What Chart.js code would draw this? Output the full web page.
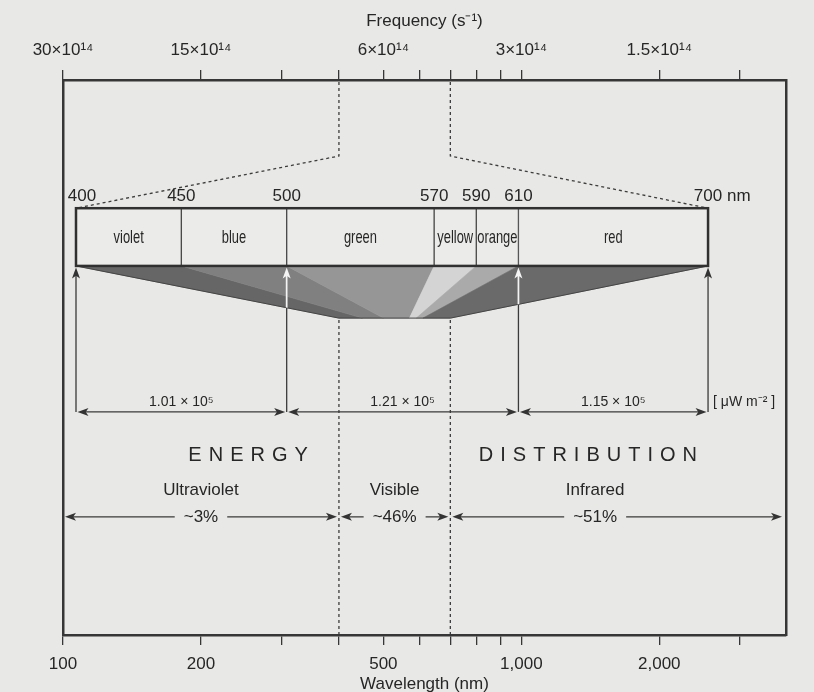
<!DOCTYPE html>
<html>
<head>
<meta charset="utf-8">
<script src="https://cdn.jsdelivr.net/npm/chart.js@4.4.1/dist/chart.umd.min.js"></script>
<style>
  html, body { margin: 0; padding: 0; background: #e8e8e6; }
  #wrap { width: 814px; height: 692px; }
</style>
</head>
<body>
<div id="wrap"><canvas id="c" width="814" height="692"></canvas></div>
<script>
// ---------------- data ----------------
const wavelengthMin = 100;
const wavelengthMax = 3780;
const wavelengthTicks = [100, 200, 300, 400, 500, 600, 700, 800, 900, 1000, 2000, 3000];
const labelledWavelengths = [100, 200, 500, 1000, 2000];
const wavelengthTickLabels = ['100', '200', '500', '1,000', '2,000'];
const frequencyTickLabels = ['30×10¹⁴', '15×10¹⁴', '6×10¹⁴', '3×10¹⁴', '1.5×10¹⁴'];

const bandNames = ['violet', 'blue', 'green', 'yellow', 'orange', 'red'];
const bandEdgesNm = [400, 450, 500, 570, 590, 610, 700];

const energyEdgesNm = [400, 500, 610, 700];
const energyValues = [1.01e5, 1.21e5, 1.15e5];   // µW m-2
const energyUnit = '[ μW m⁻² ]';

const regionNames = ['Ultraviolet', 'Visible', 'Infrared'];
const regionEdgesNm = [100, 400, 700, 3000];
const regionPercents = [3, 46, 51];

// ---------------- style / layout ----------------
const SANS = '"Liberation Sans", Arial, Helvetica, sans-serif';
const TXT = '#262626', LINE = '#363636', BG = '#e8e8e6', BAR_FILL = '#ebebe9';
const bandShades = ['#666666', '#808080', '#969696', '#d4d4d4', '#aaaaaa', '#6a6a6a'];
const CANVAS_H = 692, TOP_AXIS_H = 80, BOTTOM_AXIS_H = 57, LEFT_W = 63, RIGHT_W = 28;
const FRAME_H = CANVAS_H - TOP_AXIS_H - BOTTOM_AXIS_H;
// vertical layout in frame units (0 = top edge of frame, 100 = bottom edge)
const L = { kink: 13.7, specLabel: 21.0, barTop: 23.1, barBot: 33.5, fanBot: 42.9,
            dimLabel: 58.0, dimLine: 59.8, title: 67.6, region: 73.9, pct: 78.7,
            titleFracA: 0.256, titleFracB: 0.726 };
const spectrumScaleMin = 393.83, spectrumScaleMax = 737.0;

function arrowHead(ctx, tx, ty, dx, dy, color, len = 10, half = 4) {
  const bx = tx - dx * len, by = ty - dy * len;
  const px = -dy, py = dx;
  ctx.beginPath();
  ctx.moveTo(tx, ty);
  ctx.lineTo(bx + px * half, by + py * half);
  ctx.lineTo(tx - dx * len * 0.75, ty - dy * len * 0.75);
  ctx.lineTo(bx - px * half, by - py * half);
  ctx.closePath();
  ctx.fillStyle = color;
  ctx.fill();
}

function spacedText(ctx, text, cx, cy, spacing) {
  const chars = [...text];
  const widths = chars.map(ch => ctx.measureText(ch).width);
  const total = widths.reduce((a, b) => a + b, 0) + spacing * (chars.length - 1);
  let xx = cx - total / 2;
  ctx.textAlign = 'left';
  chars.forEach((ch, i) => { ctx.fillText(ch, xx, cy); xx += widths[i] + spacing; });
}

function narrowText(ctx, text, cx, cy, squeeze) {
  ctx.save();
  ctx.translate(cx, cy);
  ctx.scale(squeeze, 1);
  ctx.textAlign = 'center';
  ctx.fillText(text, 0, 0);
  ctx.restore();
}

const diagram = {
  id: 'diagram',
  beforeDraw(chart) {
    const ctx = chart.ctx;
    ctx.save();
    ctx.fillStyle = BG;
    ctx.fillRect(0, 0, chart.width, chart.height);
    ctx.restore();
  },
  beforeDatasetsDraw(chart) {
    const ctx = chart.ctx;
    const { x, xs, y } = chart.scales;
    const area = chart.chartArea;
    const Y = v => y.getPixelForValue(v);
    const yB = Y(L.barBot), yF = Y(L.fanBot), yT = Y(L.barTop);
    const lo = bandEdgesNm[0], hi = bandEdgesNm[bandEdgesNm.length - 1];
    ctx.save();
    // wedges mapping spectrum bar onto wavelength axis
    bandNames.forEach((n, i) => {
      const a = bandEdgesNm[i], b = bandEdgesNm[i + 1];
      ctx.beginPath();
      ctx.moveTo(xs.getPixelForValue(a), yB);
      ctx.lineTo(xs.getPixelForValue(b), yB);
      ctx.lineTo(x.getPixelForValue(b), yF);
      ctx.lineTo(x.getPixelForValue(a), yF);
      ctx.closePath();
      ctx.fillStyle = bandShades[i];
      ctx.fill();
      ctx.strokeStyle = bandShades[i];
      ctx.lineWidth = 0.6;
      ctx.stroke();
    });
    const fan = new Path2D();
    fan.moveTo(xs.getPixelForValue(lo), yB);
    fan.lineTo(xs.getPixelForValue(hi), yB);
    fan.lineTo(x.getPixelForValue(hi), yF);
    fan.lineTo(x.getPixelForValue(lo), yF);
    fan.closePath();
    ctx.strokeStyle = '#444444';
    ctx.lineWidth = 1;
    ctx.stroke(fan);

    // dashed guide lines at the visible-band limits
    ctx.setLineDash([3, 3]);
    ctx.strokeStyle = '#3c3c3c';
    ctx.lineWidth = 1.3;
    [lo, hi].forEach(nm => {
      const px = x.getPixelForValue(nm);
      ctx.beginPath();
      ctx.moveTo(px, area.top + 2);
      ctx.lineTo(px, Y(L.kink));
      ctx.lineTo(xs.getPixelForValue(nm), yT);
      ctx.stroke();
      ctx.beginPath();
      ctx.moveTo(px, yF + 2);
      ctx.lineTo(px, area.bottom - 1);
      ctx.stroke();
    });
    ctx.setLineDash([]);

    // vertical arrows from dimension line up to the bar
    const yD = Y(L.dimLine);
    ctx.strokeStyle = '#3a3a3a';
    ctx.lineWidth = 1.3;
    energyEdgesNm.forEach(nm => {
      const px = xs.getPixelForValue(nm);
      ctx.beginPath(); ctx.moveTo(px, yD); ctx.lineTo(px, yB + 8); ctx.stroke();
    });
    ctx.save();
    ctx.clip(fan);
    ctx.strokeStyle = '#f4f4f4';
    ctx.lineWidth = 1.8;
    energyEdgesNm.forEach(nm => {
      const px = xs.getPixelForValue(nm);
      ctx.beginPath(); ctx.moveTo(px, yD); ctx.lineTo(px, yB + 8); ctx.stroke();
    });
    ctx.restore();
    energyEdgesNm.forEach(nm => {
      const px = xs.getPixelForValue(nm);
      const inside = ctx.isPointInPath(fan, px, yB + 8);
      arrowHead(ctx, px, yB + 1.5, 0, -1, inside ? '#f4f4f4' : '#333', 11, 4);
    });

    // dimension lines with energy values
    ctx.strokeStyle = '#3a3a3a';
    ctx.lineWidth = 1.2;
    for (let i = 0; i < energyValues.length; i++) {
      const x1 = xs.getPixelForValue(energyEdgesNm[i]) + 1.5;
      const x2 = xs.getPixelForValue(energyEdgesNm[i + 1]) - 1.5;
      ctx.beginPath(); ctx.moveTo(x1 + 6, yD); ctx.lineTo(x2 - 6, yD); ctx.stroke();
      arrowHead(ctx, x1, yD, -1, 0, '#333', 11, 4);
      arrowHead(ctx, x2, yD, 1, 0, '#333', 11, 4);
    }
    ctx.restore();
  },
  afterDatasetsDraw(chart) {
    const ctx = chart.ctx;
    const { x, xs, y } = chart.scales;
    const area = chart.chartArea;
    const Y = v => y.getPixelForValue(v);
    const lo = bandEdgesNm[0], hi = bandEdgesNm[bandEdgesNm.length - 1];
    ctx.save();
    // spectrum bar outline
    ctx.strokeStyle = '#303030';
    ctx.lineWidth = 2.5;
    ctx.strokeRect(xs.getPixelForValue(lo), Y(L.barTop),
                   xs.getPixelForValue(hi) - xs.getPixelForValue(lo), Y(L.barBot) - Y(L.barTop));
    // band names (condensed look)
    const meta = chart.getDatasetMeta(0);
    ctx.fillStyle = TXT;
    ctx.textBaseline = 'middle';
    ctx.font = '19px ' + SANS;
    meta.data.forEach((el, i) => {
      narrowText(ctx, bandNames[i], (el.x + el.base) / 2, el.y + 1, 0.68);
    });
    // spectrum edge labels
    ctx.font = '17px ' + SANS;
    bandEdgesNm.forEach((nm, i) => {
      const px = xs.getPixelForValue(nm);
      const num = String(nm);
      if (i === bandEdgesNm.length - 1) {
        ctx.textAlign = 'left';
        ctx.fillText(num + ' nm', px - ctx.measureText(num).width / 2, Y(L.specLabel));
      } else {
        ctx.textAlign = 'center';
        ctx.fillText(num, px + (i === 0 ? 6 : 0), Y(L.specLabel));
      }
    });
    // energy values
    ctx.font = '14px ' + SANS;
    ctx.textAlign = 'center';
    energyValues.forEach((v, i) => {
      const mid = (xs.getPixelForValue(energyEdgesNm[i]) + xs.getPixelForValue(energyEdgesNm[i + 1])) / 2;
      ctx.fillText((v / 1e5).toFixed(2) + ' × 10⁵', mid, Y(L.dimLabel));
    });
    ctx.textAlign = 'left';
    ctx.fillText(energyUnit, xs.getPixelForValue(hi) + 5, Y(L.dimLabel));

    // ENERGY DISTRIBUTION
    ctx.font = '20px ' + SANS;
    spacedText(ctx, 'ENERGY', area.left + L.titleFracA * (area.right - area.left), Y(L.title), 7);
    spacedText(ctx, 'DISTRIBUTION', area.left + L.titleFracB * (area.right - area.left), Y(L.title), 7);

    // regions with percentages
    ctx.font = '17px ' + SANS;
    const yP = Y(L.pct);
    regionNames.forEach((name, i) => {
      const a = regionEdgesNm[i], b = regionEdgesNm[i + 1];
      const cx = x.getPixelForValue(Math.sqrt(a * b));
      ctx.textAlign = 'center';
      ctx.fillStyle = TXT;
      ctx.fillText(name, cx, Y(L.region));
      const label = '~' + regionPercents[i] + '%';
      ctx.fillText(label, cx, yP + 1);
      const half = ctx.measureText(label).width / 2 + 9;
      const xa = x.getPixelForValue(a) + 2;
      const xb = (i === regionNames.length - 1 ? area.right - 4 : x.getPixelForValue(b) - 2);
      ctx.strokeStyle = '#3a3a3a';
      ctx.lineWidth = 1.2;
      ctx.beginPath();
      ctx.moveTo(xa + 6, yP); ctx.lineTo(cx - half, yP);
      ctx.moveTo(cx + half, yP); ctx.lineTo(xb - 6, yP);
      ctx.stroke();
      arrowHead(ctx, xa, yP, -1, 0, '#333', 11, 4);
      arrowHead(ctx, xb, yP, 1, 0, '#333', 11, 4);
    });
    ctx.restore();
  }
};

const logTicks = s => { s.ticks = wavelengthTicks.map(v => ({ value: v })); };

const chart = new Chart(document.getElementById('c'), {
  type: 'scatter',
  data: {
    datasets: [{
      type: 'bar',
      indexAxis: 'y',
      xAxisID: 'xs',
      yAxisID: 'y',
      data: bandNames.map((n, i) => ({ x: [bandEdgesNm[i], bandEdgesNm[i + 1]], y: (L.barTop + L.barBot) / 2 })),
      backgroundColor: BAR_FILL,
      borderColor: '#4a4a4a',
      borderWidth: 1,
      borderSkipped: false,
      grouped: false,
      barThickness: (L.barBot - L.barTop) / 100 * FRAME_H
    }]
  },
  options: {
    responsive: false,
    devicePixelRatio: 1,
    animation: false,
    events: [],
    layout: { padding: 0 },
    plugins: { legend: { display: false }, tooltip: { enabled: false } },
    scales: {
      x: {
        type: 'logarithmic', position: 'bottom', min: wavelengthMin, max: wavelengthMax, offset: false,
        afterBuildTicks: logTicks,
        afterFit: s => { s.height = BOTTOM_AXIS_H; },
        ticks: {
          autoSkip: false, maxRotation: 0, minRotation: 0, padding: 9, color: TXT,
          font: { family: SANS, size: 17 },
          callback: v => { const i = labelledWavelengths.indexOf(v); return i >= 0 ? wavelengthTickLabels[i] : ''; }
        },
        grid: { drawOnChartArea: false, drawTicks: true, tickLength: 10, color: LINE, lineWidth: 1.3, offset: false },
        border: { display: true, color: LINE, width: 2.5 },
        title: { display: true, text: 'Wavelength (nm)', color: TXT, font: { family: SANS, size: 17 }, padding: { top: 0, bottom: -3 } }
      },
      xTop: {
        type: 'logarithmic', position: 'top', min: wavelengthMin, max: wavelengthMax, offset: false,
        afterBuildTicks: logTicks,
        afterFit: s => { s.height = TOP_AXIS_H; },
        ticks: {
          autoSkip: false, maxRotation: 0, minRotation: 0, padding: 9, color: TXT,
          font: { family: SANS, size: 17 },
          callback: v => { const i = labelledWavelengths.indexOf(v); return i >= 0 ? frequencyTickLabels[i] : ''; }
        },
        grid: { drawOnChartArea: false, drawTicks: true, tickLength: 10, color: LINE, lineWidth: 1.3, offset: false },
        border: { display: true, color: LINE, width: 2.5 },
        title: { display: true, text: 'Frequency (s⁻¹)', color: TXT, font: { family: SANS, size: 17 }, padding: { top: 11, bottom: 0 } }
      },
      xs: { type: 'linear', display: false, min: spectrumScaleMin, max: spectrumScaleMax, offset: false },
      y: {
        type: 'linear', position: 'left', min: 0, max: 100, reverse: true, offset: false,
        afterFit: s => { s.width = LEFT_W; },
        ticks: { display: false },
        grid: { drawOnChartArea: false, drawTicks: false, display: true, offset: false },
        border: { display: true, color: LINE, width: 2.5 }
      },
      yR: {
        type: 'linear', position: 'right', min: 0, max: 100, reverse: true, offset: false,
        afterFit: s => { s.width = RIGHT_W; },
        ticks: { display: false },
        grid: { drawOnChartArea: false, drawTicks: false, display: true, offset: false },
        border: { display: true, color: LINE, width: 2.5 }
      }
    }
  },
  plugins: [diagram]
});
</script>
</body>
</html>
